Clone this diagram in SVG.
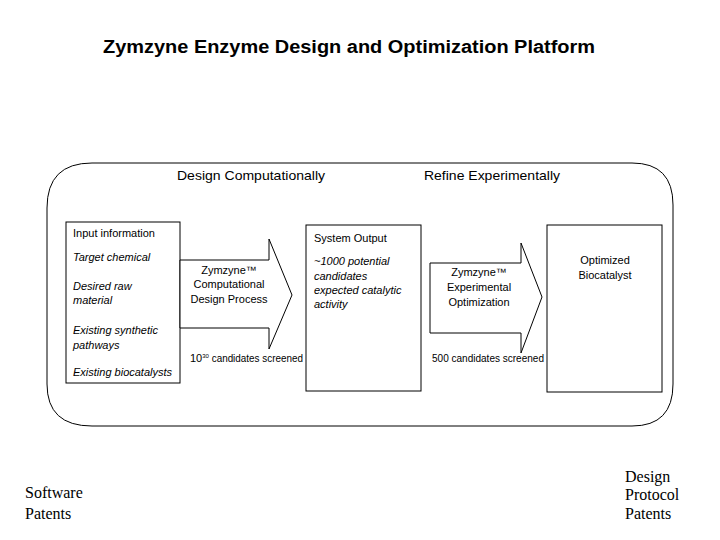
<svg xmlns="http://www.w3.org/2000/svg" width="720" height="540" viewBox="0 0 720 540">
<style>
.box{fill:#fff;stroke:#000;stroke-width:1}
.t{font-family:"Liberation Sans",Arial,sans-serif;font-size:11px;fill:#000}
.i{font-style:italic}
.c{text-anchor:middle}
.h{font-family:"Liberation Sans",Arial,sans-serif;font-size:13px;fill:#000}
.s{font-family:"Liberation Serif","Times New Roman",serif;font-size:16px;fill:#000}
</style>
<rect width="720" height="540" fill="#fff"/>
<text x="349" y="53" text-anchor="middle" font-family="Liberation Sans,Arial,sans-serif" font-weight="bold" font-size="18" textLength="492" lengthAdjust="spacingAndGlyphs">Zymzyne Enzyme Design and Optimization Platform</text>
<g id="platform">
<path class="box" d="M92,163 H632 Q673,163 673,205 V384 Q673,426 632,426 H92 Q47,426 47,384 V208 Q47,163 92,163 Z" fill="none"/>
<text class="h" x="177" y="180" textLength="148" lengthAdjust="spacingAndGlyphs">Design Computationally</text>
<text class="h" x="424" y="180" textLength="136" lengthAdjust="spacingAndGlyphs">Refine Experimentally</text>
</g>
<g id="input">
<rect class="box" x="66" y="222" width="114" height="161"/>
<text class="t" x="73" y="237">Input information</text>
<text class="t i" x="73" y="261">Target chemical</text>
<text class="t i" x="73" y="290">Desired raw</text>
<text class="t i" x="73" y="304">material</text>
<text class="t i" x="73" y="334">Existing synthetic</text>
<text class="t i" x="73" y="349">pathways</text>
<text class="t i" x="73" y="376">Existing biocatalysts</text>
</g>
<g id="connectors">
<g id="arrow1">
<path class="box" d="M180,260 H269 V239 L292,295 L269,349 V328 H180 Z"/>
<text class="t c" x="229" y="274">Zymzyne™</text>
<text class="t c" x="229" y="288">Computational</text>
<text class="t c" x="229" y="303">Design Process</text>
<text class="t" x="190" y="362" font-size="10">10<tspan font-size="6" dy="-4">30</tspan><tspan dy="4" textLength="94" lengthAdjust="spacingAndGlyphs"> candidates screened</tspan></text>
</g>
<g id="arrow2">
<path class="box" d="M430,263 H521 V243 L542,297 L521,353 V333 H430 Z"/>
<text class="t c" x="479" y="276">Zymzyne™</text>
<text class="t c" x="479" y="291">Experimental</text>
<text class="t c" x="479" y="306">Optimization</text>
<text class="t" x="432" y="362" font-size="10" textLength="112" lengthAdjust="spacingAndGlyphs">500 candidates screened</text>
</g>
</g>
<g id="output">
<rect class="box" x="306" y="225" width="115" height="166"/>
<text class="t" x="314" y="242">System Output</text>
<text class="t i" x="314" y="265">~1000 potential</text>
<text class="t i" x="314" y="280">candidates</text>
<text class="t i" x="314" y="294">expected catalytic</text>
<text class="t i" x="314" y="308">activity</text>
</g>
<g id="optimized">
<rect class="box" x="547" y="225" width="115" height="167"/>
<text class="t c" x="605" y="264">Optimized</text>
<text class="t c" x="605" y="279">Biocatalyst</text>
</g>
<g id="software">
<text class="s" x="25" y="498">Software</text>
<text class="s" x="25" y="519">Patents</text>
</g>
<g id="protocol">
<text class="s" x="625" y="482">Design</text>
<text class="s" x="625" y="500">Protocol</text>
<text class="s" x="625" y="519">Patents</text>
</g>
</svg>
